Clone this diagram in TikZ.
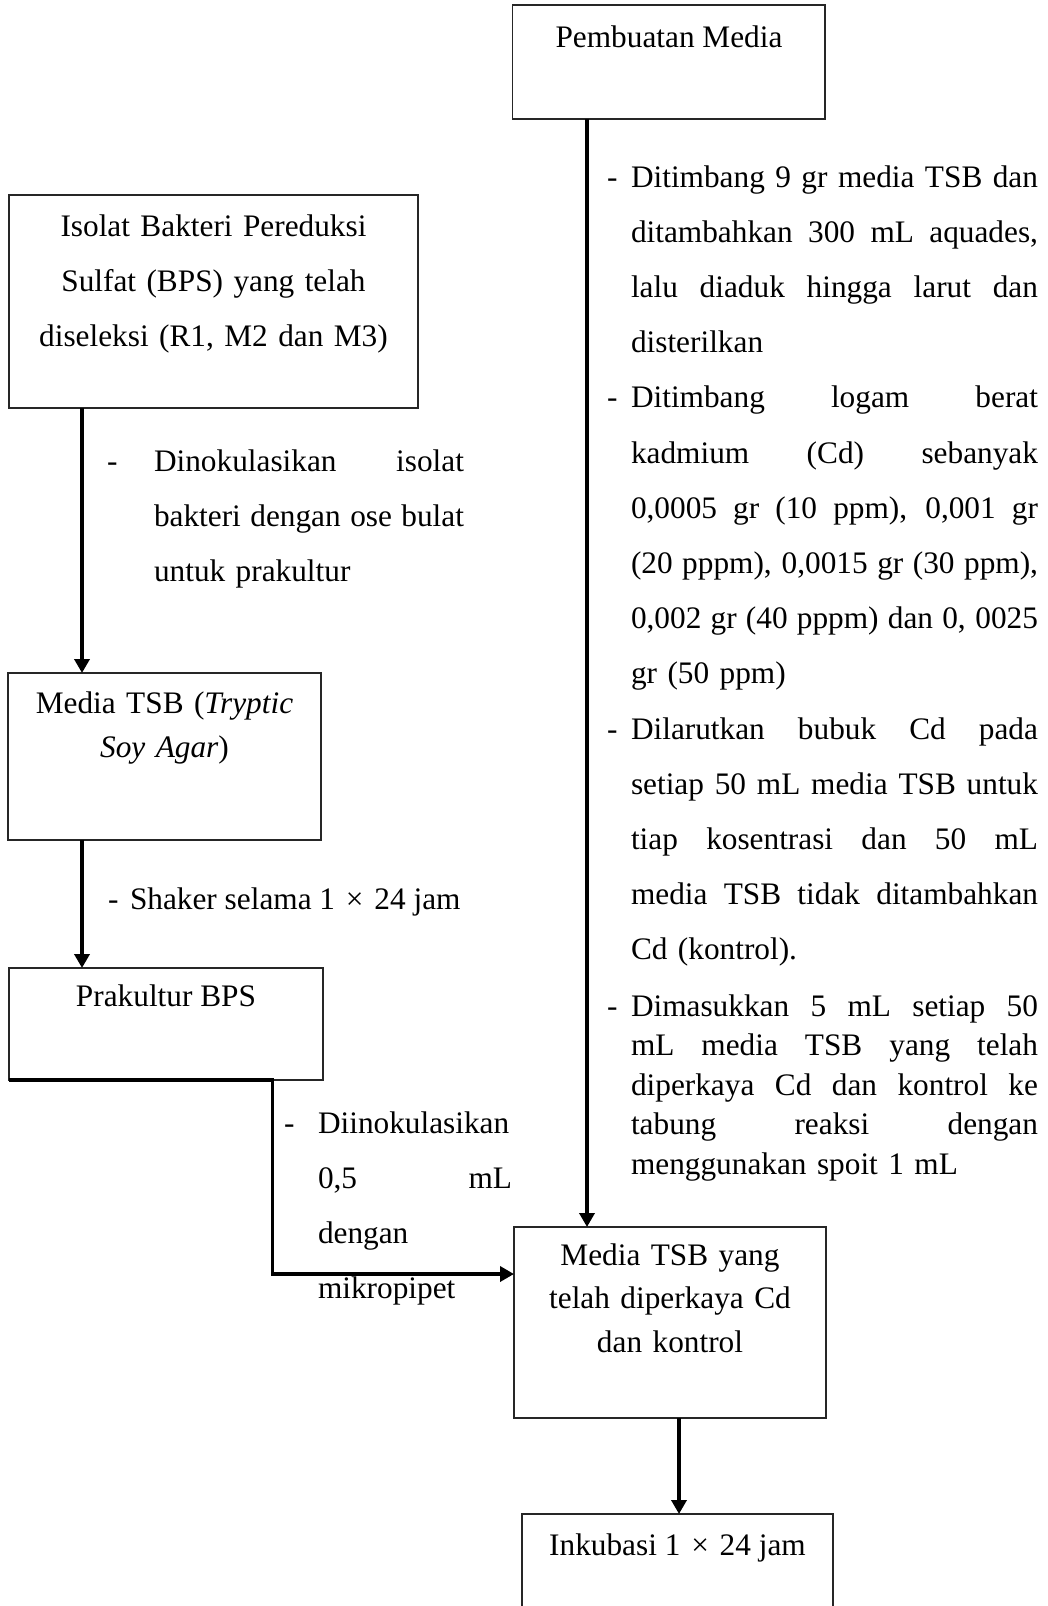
\documentclass[tikz,border=0pt]{standalone}
\usepackage{fontspec}
\setmainfont{Liberation Serif}
\usetikzlibrary{arrows.meta}
\newcommand{\jr}[1]{{\spaceskip=0pt\xspaceskip=0pt\makebox[407pt][s]{#1}}}
\newcommand{\jl}[1]{{\spaceskip=0pt\xspaceskip=0pt\makebox[310pt][s]{#1}}}
\newcommand{\jd}[1]{{\spaceskip=0pt\xspaceskip=0pt\makebox[194pt][s]{#1}}}
\newcommand{\tms}{\kern3pt×\kern3pt}
\begin{document}
\begin{tikzpicture}[x=1pt,y=-1pt,
  font=\fontsize{31.3}{55.2}\selectfont,
  box/.style={draw=black!85, line width=1.2pt, inner sep=0pt, outer sep=0pt, anchor=north west},
  conn/.style={line width=3.6pt, -{Triangle[width=15pt,length=14pt]}},
  txt/.style={inner sep=0pt, outer sep=0pt, anchor=base west},
  ctxt/.style={inner sep=0pt, outer sep=0pt, anchor=base, align=center},
  para/.style={inner sep=0pt, outer sep=0pt, anchor=base west, align=left}]
\clip (0,0) rectangle (1048,1606);
\fill[white] (0,0) rectangle (1048,1606);

% boxes
\node[box, minimum width=312.5pt, minimum height=114pt] (media) at (512.5,5) {};
\node[box, minimum width=409pt, minimum height=213pt] (isolat) at (9,195) {};
\node[box, minimum width=313pt, minimum height=167pt] (tsba) at (8,673) {};
\node[box, minimum width=314pt, minimum height=112pt] (prak) at (9,968) {};
\node[box, minimum width=312pt, minimum height=191pt] (tsbb) at (514,1227) {};
\node[box, minimum width=311pt, minimum height=136pt] (inkub) at (522,1514) {};

% box texts
\node[ctxt] (tmedia) at (669,47) {Pembuatan Media};
\node[ctxt, text width=409pt] (tisolat) at (213.5,236)
  {Isolat Bakteri Pereduksi\\Sulfat (BPS) yang telah\\diseleksi (R1, M2 dan M3)};
\node[ctxt, text width=313pt, font=\fontsize{31.3}{44}\selectfont] (ttsba) at (164.5,713)
  {Media TSB (\textit{Tryptic}\\\textit{Soy Agar})};
\node[ctxt] (tprak) at (166,1006) {Prakultur BPS};
\node[ctxt, text width=312pt, font=\fontsize{31.3}{43.5}\selectfont] (ttsbb) at (670,1265)
  {Media TSB yang\\telah diperkaya Cd\\dan kontrol};
\node[ctxt] (tinkub) at (677.5,1555) {Inkubasi 1 \tms\ 24 jam};

% connectors
\coordinate (bend) at (272.5,1274);
\draw[conn] ([xshift=74.5pt]media.south west) -- ([xshift=74.5pt]media.south west |- tsbb.north);
\draw[conn] ([xshift=73pt]isolat.south west) -- ([xshift=73pt]isolat.south west |- tsba.north);
\draw[conn] ([xshift=74pt]tsba.south west) -- ([xshift=74pt]tsba.south west |- prak.north);
\draw[conn] (prak.south west) -| (bend) -- (bend -| tsbb.west);
\draw[conn] ([xshift=165pt]tsbb.south west) -- ([xshift=165pt]tsbb.south west |- inkub.north);

% left annotations
\node[txt] (da) at (107,471) {-};
\node[para, text width=310pt] (la) at (154,471)
  {\jl{Dinokulasikan isolat}\\\jl{bakteri dengan ose bulat}\\untuk prakultur};
\node[txt] (db) at (108,909) {-};
\node[txt] (lb) at (130,909) {Shaker selama 1 \tms\ 24 jam};
\node[txt] (dc) at (284,1133) {-};
\node[para, text width=194pt] (lc) at (318,1133)
  {\jd{Diinokulasikan}\\\jd{0,5 mL}\\dengan\\mikropipet};

% right column
\node[txt] (r1) at (607,187) {-};
\node[para, text width=407pt] (ra) at (631,187)
  {\jr{Ditimbang 9 gr media TSB dan}\\\jr{ditambahkan 300 mL aquades,}\\\jr{lalu diaduk hingga larut dan}\\disterilkan};
\node[txt] (r2) at (607,407.8) {-};
\node[para, text width=407pt] (rb) at (631,407.8)
  {\jr{Ditimbang logam berat}\\\jr{kadmium (Cd) sebanyak}\\\jr{0,0005 gr (10 ppm), 0,001 gr}\\\jr{(20 pppm), 0,0015 gr (30 ppm),}\\\jr{0,002 gr (40 pppm) dan 0, 0025}\\gr (50 ppm)};
\node[txt] (r3) at (607,739) {-};
\node[para, text width=407pt] (rc) at (631,739)
  {\jr{Dilarutkan bubuk Cd pada}\\\jr{setiap 50 mL media TSB untuk}\\\jr{tiap kosentrasi dan 50 mL}\\\jr{media TSB tidak ditambahkan}\\Cd (kontrol).};
\node[txt] (r4) at (607,1016) {-};
\node[para, text width=407pt, font=\fontsize{31.3}{39.5}\selectfont] (rd) at (631,1016)
  {\jr{Dimasukkan 5 mL setiap 50}\\\jr{mL media TSB yang telah}\\\jr{diperkaya Cd dan kontrol ke}\\\jr{tabung reaksi dengan}\\menggunakan spoit 1 mL};
\end{tikzpicture}
\end{document}
